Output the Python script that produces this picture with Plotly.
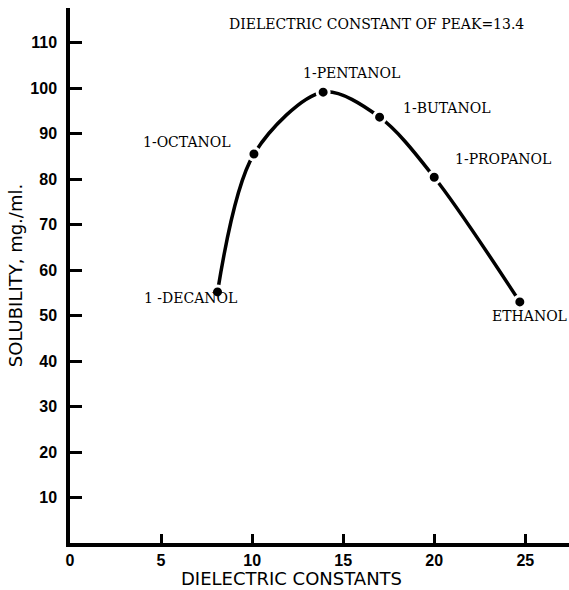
import plotly.graph_objects as go

solvents = ["1 -DECANOL", "1-OCTANOL", "1-PENTANOL", "1-BUTANOL", "1-PROPANOL", "ETHANOL"]
dielectric = [8.1, 10.1, 13.9, 17.0, 20.0, 24.7]
solubility = [55.2, 85.5, 99.1, 93.6, 80.4, 53.0]

x_ticks = [0, 5, 10, 15, 20, 25]
y_ticks = [10, 20, 30, 40, 50, 60, 70, 80, 90, 100, 110]

# label pixel offsets (style only)
label_shift = [(-27, -6), (-67, 12), (28, 19), (67, 9), (69, 18), (10, -14)]

fig = go.Figure()
fig.add_trace(go.Scatter(
    x=dielectric, y=solubility, mode="lines+markers",
    line=dict(color="black", width=3.5, shape="spline", smoothing=0.9),
    marker=dict(size=12, color="black", line=dict(color="white", width=3)),
    showlegend=False, hoverinfo="skip",
))

serif = "DejaVu Serif"
for name, xv, yv, (dx, dy) in zip(solvents, dielectric, solubility, label_shift):
    fig.add_annotation(x=xv, y=yv, text=name, showarrow=False,
                       xshift=dx, yshift=dy,
                       font=dict(family=serif, size=14, color="black"))

fig.add_annotation(xref="paper", yref="paper", x=(376 - 70) / 499, y=(543 - 14) / 535,
                   text="DIELECTRIC CONSTANT OF PEAK=13.4", showarrow=False,
                   font=dict(family=serif, size=14, color="black"))

fig.add_annotation(xref="paper", yref="paper", x=(291 - 70) / 499, y=-(578 - 543) / 535,
                   yanchor="middle", text="DIELECTRIC CONSTANTS", showarrow=False,
                   font=dict(family="DejaVu Sans", size=18, color="black"))

tickf = dict(family="Liberation Sans", size=16, color="black", weight="bold")
fig.update_layout(
    width=569, height=590,
    margin=dict(l=70, r=0, t=8, b=47),
    plot_bgcolor="white", paper_bgcolor="white",
    xaxis=dict(range=[0, 27.4], tickvals=x_ticks, ticks="inside", ticklen=9,
               tickwidth=3, tickcolor="black", showline=True, linewidth=3.5,
               linecolor="black", showgrid=False, zeroline=False,
               tickfont=tickf),
    yaxis=dict(range=[0, 117.6], tickvals=y_ticks, ticks="inside", ticklen=12,
               tickwidth=3, tickcolor="black", showline=True, linewidth=3.5,
               linecolor="black", showgrid=False, zeroline=False,
               tickfont=tickf, ticklabelstandoff=6,
               title=dict(text="SOLUBILITY, mg./ml.", standoff=4,
                          font=dict(family="DejaVu Sans", size=18, color="black"))),
)

fig.write_html("out.html")
